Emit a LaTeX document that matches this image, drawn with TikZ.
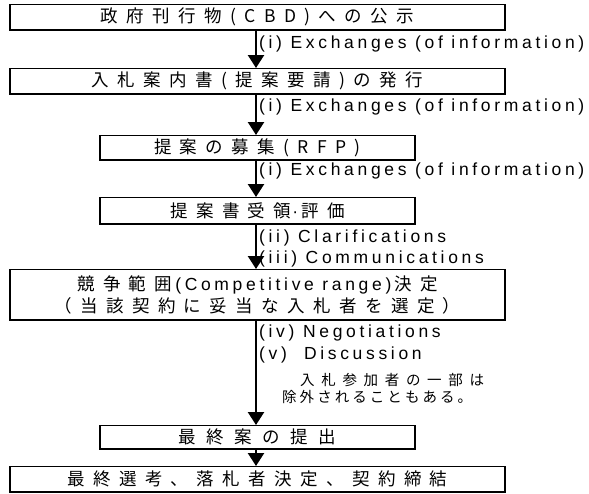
\documentclass[tikz,border=0pt]{standalone}
\usepackage{fontspec}
\usetikzlibrary{arrows.meta}
\setmainfont{Liberation Sans}
\newfontfamily\jp[LetterSpace=48]{Noto Sans CJK JP}
\newfontfamily\jpw[LetterSpace=60]{Noto Sans CJK JP}
\newfontfamily\jpa[LetterSpace=46]{Noto Sans CJK JP}
\newfontfamily\jpb[LetterSpace=21]{Noto Sans CJK JP}
\newfontfamily\lat[LetterSpace=21]{Liberation Sans}
\newcommand{\bigfs}{\fontsize{17.5}{22}\selectfont}
\begin{document}
\begin{tikzpicture}[x=1pt,y=-1pt,
  box/.style={draw, line width=0.9pt, inner sep=0pt, anchor=north west,
    font=\bigfs\jp, align=center},
  shade/.style={line width=2.6pt, line join=miter},
  arr/.style={line width=2.4pt, -{Triangle[width=16pt,length=13pt]}},
  lbl/.style={anchor=west, inner sep=0pt, font=\fontsize{17.5}{19}\selectfont\lat},
  note/.style={anchor=west, inner sep=0pt},
]
\useasboundingbox (0,0) rectangle (589,493);
\fill[white] (0,0) rectangle (589,493);
\coordinate (ax) at (256,0);

\node[box, minimum width=494pt, minimum height=25pt] (b1) at (10,4) {政府刊行物(CBD)への公示};
\node[box, minimum width=494pt, minimum height=25pt] (b2) at (10,68) {入札案内書(提案要請)の発行};
\node[box, minimum width=314pt, minimum height=24pt] (b3) at (100,135) {提案の募集(RFP)};
\node[box, minimum width=314pt, minimum height=26pt] (b4) at (100,197) {提案書受領{\lat\kern1pt·\kern3pt}評価};
\node[box, minimum width=494pt, minimum height=50pt] (b5) at (10,269)
  {競争範囲{\lat\,(Competitive range)\,}決定\\（当該契約に妥当な入札者を選定）};
\node[box, minimum width=314pt, minimum height=23pt, font=\bigfs\jpw] (b6) at (100,425) {最終案の提出};
\node[box, minimum width=494pt, minimum height=25pt] (b7) at (10,466) {最終選考、落札者決定、契約締結};

\foreach \n in {b1,b2,b3,b4,b5,b6,b7}
  \draw[shade] (\n.north west) -- (\n.south west) -- (\n.south east) -- (\n.north east);

\draw[arr] (b1.south -| ax) -- (b2.north -| ax);
\draw[arr] (b2.south -| ax) -- (b3.north -| ax);
\draw[arr] (b3.south -| ax) -- (b4.north -| ax);
\draw[arr] (b4.south -| ax) -- (b5.north -| ax);
\draw[arr] (b5.south -| ax) -- (b6.north -| ax);
\draw[arr] (b6.south -| ax) -- (b7.north -| ax);

\node[lbl] (l1) at (259,44) {(i) Exchanges (of information)};
\node[lbl] (l2) at (259,107) {(i) Exchanges (of information)};
\node[lbl] (l3) at (259,171) {(i) Exchanges (of information)};
\node[lbl] (l4) at (259,238) {(ii) Clarifications};
\node[lbl] (l5) at (259,259) {(iii) Communications};
\node[lbl] (l6) at (259,333) {(iv) Negotiations};
\node[lbl] (l7) at (259,355) {(v)\ \ Discussion};

\node[note, font=\fontsize{14.5}{16}\selectfont\jpa] (n1) at (300,380) {入札参加者の一部は};
\node[note, font=\fontsize{14.5}{16}\selectfont\jpb] (n2) at (282,397) {除外されることもある。};
\end{tikzpicture}
\end{document}
